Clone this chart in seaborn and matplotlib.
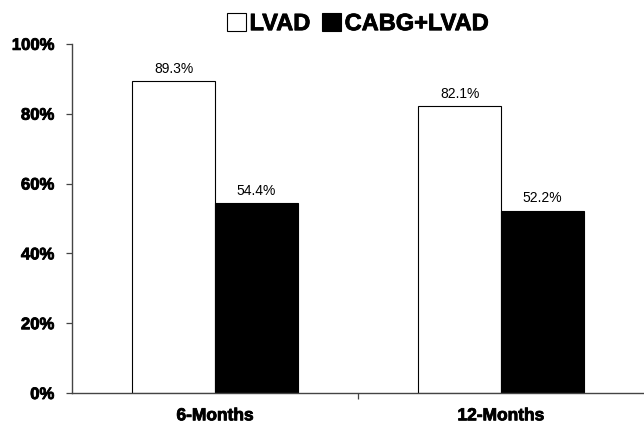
import matplotlib
matplotlib.use("Agg")
import matplotlib.pyplot as plt
import matplotlib.patheffects as pe
import seaborn as sns
import pandas as pd
from matplotlib.patches import Patch
from matplotlib.ticker import PercentFormatter

periods = ["6-Months", "12-Months"]
groups = ["LVAD", "CABG+LVAD"]
lvad = [89.3, 82.1]
cabg_lvad = [54.4, 52.2]
y_ticks = [0, 20, 40, 60, 80, 100]

df = pd.DataFrame({
    "period": periods * 2,
    "group": [groups[0]] * 2 + [groups[1]] * 2,
    "value": lvad + cabg_lvad,
})

sns.set_theme(style="white")
plt.rcParams["font.family"] = ["Liberation Sans", "DejaVu Sans"]
plt.rcParams["text.color"] = "black"
plt.rcParams["xtick.color"] = "black"
plt.rcParams["ytick.color"] = "black"

heavy = [pe.withStroke(linewidth=0.6, foreground="black")]

fig = plt.figure(figsize=(6.44, 4.30), dpi=100)
ax = fig.add_axes([0.112, 0.086, 0.888, 0.812])

sns.barplot(data=df, x="period", y="value", hue="group", order=periods,
            hue_order=groups, palette={"LVAD": "white", "CABG+LVAD": "black"},
            width=0.58, edgecolor="black", linewidth=0.8, ax=ax, legend=False,
            errorbar=None)

for container in ax.containers:
    ax.bar_label(container, labels=[f"{v:.1f}%" for v in container.datavalues],
                 padding=4, fontsize=10, color="black")

ax.set_xlim(-0.5, 1.5)
ax.set_ylim(0, 100)
ax.set_yticks(y_ticks)
ax.yaxis.set_major_formatter(PercentFormatter(decimals=0))
ax.set_xlabel("")
ax.set_ylabel("")

ax.set_xticks([0.5], minor=True)
ax.tick_params(axis="x", which="major", length=0, pad=11, labelsize=12.5)
ax.tick_params(axis="x", which="minor", length=4, width=0.9, color="#444444",
               direction="out", bottom=True)
ax.tick_params(axis="y", length=4, width=0.9, color="#444444", left=True,
               direction="out", pad=9, labelsize=12)
for lab in ax.get_xticklabels() + ax.get_yticklabels():
    lab.set_fontweight("bold")
    lab.set_path_effects(heavy)

sns.despine(ax=ax)
for side in ("left", "bottom"):
    ax.spines[side].set_color("#444444")
    ax.spines[side].set_linewidth(1.0)

handles = [Patch(facecolor="white", edgecolor="black", linewidth=0.8),
           Patch(facecolor="black", edgecolor="black", linewidth=0.8)]
leg = fig.legend(handles, groups, loc="center", bbox_to_anchor=(0.556, 0.945),
                 ncol=2, frameon=False, handlelength=0.8, handleheight=0.8,
                 handletextpad=0.15, columnspacing=0.5,
                 prop={"weight": "bold", "size": 17})
for t in leg.get_texts():
    t.set_path_effects(heavy)

fig.savefig("out.png", dpi=100)
